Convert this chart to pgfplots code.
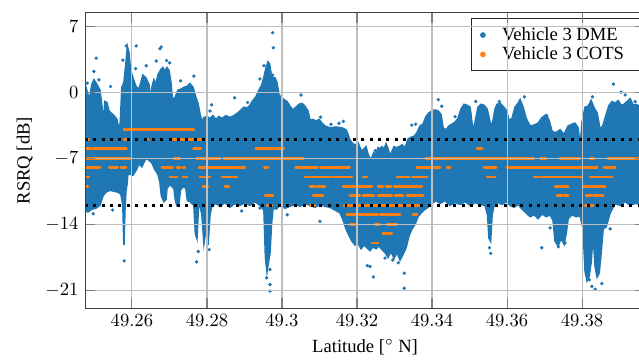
\documentclass[border=0pt]{standalone}
\usepackage{fontspec}
\setmainfont{Liberation Serif}
\usepackage{pgfplots}
\pgfplotsset{compat=1.18}
\usepgfplotslibrary{fillbetween}
\definecolor{c0}{RGB}{31,119,180}
\definecolor{c1}{RGB}{255,127,14}
\definecolor{gridc}{RGB}{190,190,190}
\begin{document}
\begin{tikzpicture}
\begin{axis}[
  scale only axis, width=301.1pt, height=158.9pt,
  xmin=49.2475, xmax=49.3968, ymin=-22.94, ymax=8.41,
  xtick={49.26,49.28,49.3,49.32,49.34,49.36,49.38},
  ytick={-21,-14,-7,0,7},
  grid=major, major grid style={gridc, line width=0.6pt},
  axis on top,
  axis line style={black!75},
  tick style={black!50, line width=0.6pt},
  major tick length=5.5pt,
  xlabel={Latitude [$^\circ$ N]}, ylabel={RSRQ [dB]},
  unbounded coords=jump,
  legend style={at={(0.6888,0.981)}, anchor=north west, draw=black!85, legend cell align=left, inner xsep=5pt, inner ysep=2.5pt, row sep=-2pt, column sep=7pt},
]
\addlegendimage{only marks, mark=*, mark size=1.3pt, c0}
\addlegendentry{Vehicle 3 DME}
\addlegendimage{only marks, mark=*, mark size=1.3pt, c1}
\addlegendentry{Vehicle 3 COTS\hspace*{20pt}}

% upper envelope of the DME cloud
\addplot[name path=up, c0, line width=0.9pt, forget plot] table {
x y
49.2472 0.3
49.24773 0.5
49.24827 -0.3
49.2488 -0.5
49.24933 0.8
49.24987 1.3
49.2504 1.0
49.25093 0.6
49.25147 0.2
49.252 -1.5
49.2524 -3.6
49.2528 -1.0
49.25333 -1.1
49.25387 -2.0
49.25467 -2.3
49.25547 -2.6
49.256 -2.9
49.25653 -4.0
49.25693 -3.2
49.25733 0.5
49.25787 1.0
49.2584 3.0
49.2588 4.8
49.2592 4.2
49.2596 2.4
49.26027 1.5
49.26107 0.6
49.26187 0.3
49.2624 1.0
49.26293 1.8
49.26373 1.5
49.26453 0.8
49.26493 -1.1
49.26533 0.5
49.26587 1.3
49.2664 0.8
49.26693 1.8
49.26773 2.4
49.26827 2.6
49.2688 2.2
49.26933 2.6
49.26987 2.3
49.2704 1.0
49.2708 -0.8
49.27147 -0.6
49.27227 0.2
49.27307 0.3
49.27387 0.5
49.27467 0.6
49.27547 0.9
49.27627 0.5
49.27707 -0.6
49.2776 -1.2
49.27813 -2.3
49.27867 -3.2
49.2792 -2.7
49.28 -2.6
49.2808 -2.8
49.2816 -2.5
49.2824 -2.9
49.2832 -2.6
49.284 -2.8
49.28507 -2.5
49.28613 -2.7
49.2872 -2.5
49.28827 -2.2
49.28907 -1.9
49.28987 -1.6
49.29067 -1.7
49.29147 -1.4
49.29227 -0.9
49.29307 -0.5
49.29387 0.2
49.29467 0.8
49.2952 1.6
49.29573 2.5
49.29627 3.2
49.29667 3.0
49.29707 2.0
49.2976 1.5
49.29813 1.5
49.29867 1.0
49.2992 -0.3
49.29973 -0.5
49.30053 -0.8
49.30133 -1.0
49.30213 -1.5
49.30293 -1.9
49.30373 -1.6
49.30453 -1.3
49.30533 -1.2
49.30613 -1.5
49.30693 -2.0
49.30747 -3.0
49.30827 -2.9
49.30907 -3.1
49.30987 -2.9
49.31067 -3.3
49.31147 -3.6
49.3128 -3.8
49.3144 -3.7
49.316 -3.8
49.31707 -4.0
49.3176 -4.5
49.31813 -5.1
49.31893 -5.5
49.31973 -5.6
49.32027 -5.4
49.3208 -5.9
49.32133 -6.3
49.32187 -6.0
49.3224 -5.8
49.32293 -6.6
49.32347 -7.1
49.324 -6.9
49.32453 -6.4
49.32507 -6.6
49.3256 -5.9
49.32613 -6.0
49.32667 -5.8
49.3272 -6.1
49.32773 -5.5
49.32827 -6.0
49.3288 -6.8
49.32933 -6.3
49.32987 -5.8
49.3304 -5.9
49.3312 -5.8
49.332 -5.6
49.3328 -5.9
49.3336 -5.0
49.3344 -4.8
49.3352 -4.7
49.336 -4.3
49.3368 -3.6
49.3376 -3.4
49.3384 -2.6
49.3392 -2.2
49.34 -2.0
49.3408 -1.9
49.3416 -2.0
49.3424 -2.4
49.34293 -3.8
49.34373 -4.0
49.34453 -3.6
49.34533 -3.4
49.34613 -3.2
49.34693 -2.8
49.34773 -1.8
49.34853 -1.3
49.34933 -1.4
49.35013 -1.6
49.35093 -4.2
49.35147 -3.2
49.35227 -1.6
49.35307 -1.3
49.35387 -1.4
49.35467 -1.8
49.35547 -3.2
49.356 -3.6
49.3568 -1.8
49.35733 -1.3
49.35813 -1.2
49.35893 -1.5
49.35973 -1.9
49.36053 -3.0
49.36133 -2.8
49.36213 -1.6
49.36293 -1.2
49.36347 -0.8
49.36427 -1.6
49.36507 -2.8
49.36613 -3.6
49.3672 -3.5
49.36827 -3.3
49.36933 -2.7
49.3704 -2.4
49.3712 -3.0
49.372 -4.2
49.37307 -4.3
49.37413 -4.0
49.3752 -4.5
49.37627 -3.6
49.37733 -3.4
49.37813 -3.3
49.37893 -3.8
49.37947 -5.8
49.38 -3.2
49.3808 -1.6
49.3816 -1.5
49.3824 -0.9
49.3832 -1.7
49.384 -2.2
49.3848 -4.0
49.3856 -3.5
49.3864 -2.4
49.3872 -1.4
49.388 -1.0
49.3888 -1.2
49.3896 -0.9
49.3904 -1.4
49.3912 -1.3
49.392 -1.0
49.3928 -0.7
49.3936 -1.4
49.3944 -1.3
49.3952 -1.5
49.3968 -1.4
};

% lower envelope of the DME cloud
\addplot[name path=lo, c0, line width=0.9pt, forget plot] table {
x y
49.2472 -12.5
49.24827 -12.7
49.24933 -12.4
49.2504 -12.3
49.25147 -12.0
49.25227 -11.0
49.25307 -10.6
49.25413 -10.4
49.2552 -10.5
49.25627 -10.6
49.25707 -10.8
49.2576 -12.0
49.25787 -16.2
49.25813 -12.5
49.2584 -10.5
49.25867 -9.8
49.25893 -8.6
49.25947 -8.7
49.26027 -8.8
49.26107 -8.3
49.26187 -7.6
49.26267 -7.9
49.26347 -7.2
49.264 -7.0
49.26453 -7.2
49.26533 -7.5
49.26613 -8.2
49.26693 -8.7
49.26747 -9.5
49.26787 -11.0
49.26853 -11.6
49.26907 -11.4
49.26933 -10.2
49.27013 -9.8
49.2712 -10.2
49.2716 -11.5
49.272 -12.0
49.27253 -11.8
49.27293 -10.4
49.2736 -10.0
49.2744 -10.2
49.2748 -11.5
49.27547 -11.6
49.27653 -12.0
49.27693 -15.0
49.27733 -15.5
49.27773 -12.2
49.27813 -12.0
49.27867 -13.0
49.2792 -16.0
49.27973 -14.5
49.28027 -16.2
49.2808 -13.0
49.28133 -12.0
49.2824 -11.8
49.28347 -12.1
49.2848 -11.7
49.28613 -12.2
49.28747 -11.8
49.2888 -12.0
49.29013 -11.7
49.29147 -12.0
49.2928 -11.6
49.29413 -12.0
49.2952 -12.5
49.2956 -17.5
49.296 -19.0
49.2964 -18.0
49.2968 -17.0
49.2972 -14.0
49.2976 -12.3
49.2984 -12.4
49.29947 -12.0
49.3008 -12.3
49.30213 -12.1
49.30347 -11.9
49.3048 -12.1
49.30613 -11.8
49.30747 -12.0
49.3088 -12.2
49.31013 -11.9
49.31147 -12.1
49.3128 -12.2
49.31413 -12.5
49.31547 -12.8
49.31627 -13.5
49.31707 -14.5
49.31787 -15.2
49.31867 -15.8
49.31947 -16.2
49.32027 -16.0
49.32107 -16.6
49.32187 -16.2
49.32267 -16.5
49.32347 -16.8
49.32427 -16.4
49.32507 -16.6
49.32587 -16.3
49.32667 -16.7
49.32747 -17.0
49.32827 -17.5
49.32907 -16.9
49.32987 -17.6
49.33067 -17.0
49.33147 -17.8
49.33227 -17.2
49.33307 -16.5
49.33387 -15.2
49.33467 -14.5
49.33547 -14.0
49.33627 -13.2
49.33707 -12.8
49.33787 -12.5
49.33893 -12.2
49.34 -11.8
49.34107 -11.5
49.34213 -11.8
49.34347 -11.5
49.3448 -12.0
49.34613 -11.7
49.34747 -11.9
49.3488 -11.6
49.35013 -12.0
49.35147 -11.7
49.3528 -11.9
49.35413 -12.0
49.3548 -13.0
49.3552 -15.5
49.3556 -15.8
49.356 -13.0
49.35653 -12.0
49.3576 -11.7
49.35867 -11.9
49.35973 -11.6
49.3608 -12.0
49.36187 -12.2
49.36293 -11.9
49.364 -12.4
49.36507 -12.8
49.36613 -13.2
49.3672 -13.0
49.36827 -13.4
49.36933 -12.9
49.3704 -13.2
49.37147 -13.0
49.37227 -13.6
49.3728 -15.8
49.3736 -16.3
49.3744 -15.5
49.3752 -16.1
49.37573 -15.0
49.37627 -13.4
49.37733 -13.0
49.3784 -13.2
49.37947 -13.1
49.38027 -14.5
49.3808 -19.0
49.38133 -20.0
49.38187 -19.5
49.3824 -18.0
49.38293 -15.0
49.38347 -18.5
49.384 -19.6
49.38453 -19.2
49.38507 -17.0
49.3856 -14.5
49.3864 -14.3
49.38747 -12.8
49.3888 -11.8
49.39013 -12.0
49.39147 -11.6
49.3928 -12.0
49.39413 -11.8
49.3968 -11.9
};
\addplot[c0, forget plot] fill between[of=up and lo];

% isolated DME samples outside the dense band
\addplot[only marks, mark=*, mark size=0.7pt, c0, forget plot] table {
x y
49.24808 0.95
49.24987 2.2
49.25048 3.6
49.2512 1.3
49.25432 0.6
49.2576 3.4
49.25848 4.9
49.26115 4.9
49.26099 2.5
49.26381 2.8
49.26648 3.3
49.26747 4.6
49.26781 4.8
49.26925 3.35
49.27005 3.1
49.27299 1.2
49.27653 1.7
49.2808 -2.0
49.28125 -1.35
49.28739 -0.6
49.29085 -1.1
49.29253 -0.9
49.29413 1.4
49.2952 2.8
49.29752 6.3
49.29768 4.7
49.29752 1.8
49.30507 -0.3
49.31032 -2.65
49.31307 -3.4
49.3152 -3.3
49.31635 -3.1
49.32488 -6.2
49.33459 -3.5
49.33565 -3.4
49.34168 -0.8
49.34259 -1.5
49.34613 -2.6
49.35165 -1.0
49.35795 -1.0
49.36461 -0.5
49.37059 -2.5
49.38035 -2.4
49.38275 -0.5
49.38835 0.85
49.3904 0.0
49.39147 -0.3
49.39413 -1.0
49.25795 -17.9
49.24968 -12.9
49.25485 -12.5
49.27725 -18.0
49.27768 -16.9
49.28061 -16.7
49.2968 -21.1
49.2968 -20.4
49.29592 -19.7
49.2968 -18.8
49.28925 -12.6
49.29413 -12.3
49.30141 -13.0
49.31013 -13.7
49.32435 -19.6
49.32347 -18.5
49.32275 -18.4
49.33261 -19.2
49.33261 -20.8
49.33101 -18.1
49.32747 -17.6
49.32952 -17.8
49.35565 -17.1
49.35528 -16.5
49.36925 -16.5
49.37147 -14.4
49.37368 -16.4
49.37547 -16.0
49.38259 -20.6
49.38347 -20.9
49.38525 -20.3
49.38747 -14.5
49.38195 -19.9
};

% COTS samples (integer dB levels)
\addplot[c1, line width=1.5pt, line cap=round, forget plot] coordinates {
(49.25787,-4) (49.27653,-4) (49.3,nan)
(49.24773,-5) (49.24853,-5) (49.3,nan)
(49.25787,-5) (49.25853,-5) (49.3,nan)
(49.26373,-5) (49.26427,-5) (49.3,nan)
(49.27032,-5) (49.27931,-5) (49.3,nan)
(49.24773,-6) (49.24907,-6) (49.3,nan)
(49.2496,-6) (49.25853,-6) (49.3,nan)
(49.27645,-6) (49.27835,-6) (49.3,nan)
(49.29299,-6) (49.3005,-6) (49.3,nan)
(49.352,-6) (49.35333,-6) (49.3,nan)
(49.24773,-7) (49.25947,-7) (49.3,nan)
(49.2712,-7) (49.2728,-7) (49.3,nan)
(49.27733,-7) (49.28347,-7) (49.3,nan)
(49.28453,-7) (49.30573,-7) (49.3,nan)
(49.33829,-7) (49.36709,-7) (49.3,nan)
(49.36896,-7) (49.3704,-7) (49.3,nan)
(49.37413,-7) (49.37936,-7) (49.3,nan)
(49.38213,-7) (49.3832,-7) (49.3,nan)
(49.38693,-7) (49.3968,-7) (49.3,nan)
(49.24773,-8) (49.25147,-8) (49.3,nan)
(49.254,-8) (49.25616,-8) (49.3,nan)
(49.25707,-8) (49.2584,-8) (49.3,nan)
(49.268,-8) (49.2708,-8) (49.3,nan)
(49.272,-8) (49.2728,-8) (49.3,nan)
(49.2736,-8) (49.27413,-8) (49.3,nan)
(49.27787,-8) (49.28693,-8) (49.3,nan)
(49.28733,-8) (49.29013,-8) (49.3,nan)
(49.29533,-8) (49.29627,-8) (49.3,nan)
(49.30365,-8) (49.30949,-8) (49.3,nan)
(49.31027,-8) (49.318,-8) (49.3,nan)
(49.33592,-8) (49.34208,-8) (49.3,nan)
(49.344,-8) (49.3448,-8) (49.3,nan)
(49.35387,-8) (49.35707,-8) (49.3,nan)
(49.36,-8) (49.384,-8) (49.3,nan)
(49.38587,-8) (49.3888,-8) (49.3,nan)
(49.24773,-9) (49.24853,-9) (49.3,nan)
(49.27013,-9) (49.272,-9) (49.3,nan)
(49.2736,-9) (49.27467,-9) (49.3,nan)
(49.27813,-9) (49.2808,-9) (49.3,nan)
(49.284,-9) (49.288,-9) (49.3,nan)
(49.30613,-9) (49.3128,-9) (49.3,nan)
(49.31333,-9) (49.31867,-9) (49.3,nan)
(49.3216,-9) (49.32267,-9) (49.3,nan)
(49.33067,-9) (49.332,-9) (49.3,nan)
(49.33227,-9) (49.33387,-9) (49.3,nan)
(49.33467,-9) (49.336,-9) (49.3,nan)
(49.33627,-9) (49.33867,-9) (49.3,nan)
(49.35467,-9) (49.3568,-9) (49.3,nan)
(49.3672,-9) (49.36827,-9) (49.3,nan)
(49.3688,-9) (49.38,-9) (49.3,nan)
(49.38213,-9) (49.388,-9) (49.3,nan)
(49.24773,-10) (49.24827,-10) (49.3,nan)
(49.27893,-10) (49.28027,-10) (49.3,nan)
(49.2848,-10) (49.28587,-10) (49.3,nan)
(49.30747,-10) (49.3088,-10) (49.3,nan)
(49.30933,-10) (49.31147,-10) (49.3,nan)
(49.31627,-10) (49.31947,-10) (49.3,nan)
(49.32027,-10) (49.324,-10) (49.3,nan)
(49.3256,-10) (49.32693,-10) (49.3,nan)
(49.32773,-10) (49.32907,-10) (49.3,nan)
(49.32987,-10) (49.33173,-10) (49.3,nan)
(49.332,-10) (49.33733,-10) (49.3,nan)
(49.3728,-10) (49.37627,-10) (49.3,nan)
(49.38027,-10) (49.38267,-10) (49.3,nan)
(49.38293,-10) (49.38613,-10) (49.3,nan)
(49.29547,-11) (49.2976,-11) (49.3,nan)
(49.30827,-11) (49.31093,-11) (49.3,nan)
(49.31813,-11) (49.3208,-11) (49.3,nan)
(49.3216,-11) (49.32453,-11) (49.3,nan)
(49.3256,-11) (49.32933,-11) (49.3,nan)
(49.33013,-11) (49.33227,-11) (49.3,nan)
(49.33333,-11) (49.3376,-11) (49.3,nan)
(49.37333,-11) (49.37467,-11) (49.3,nan)
(49.3752,-11) (49.37627,-11) (49.3,nan)
(49.38107,-11) (49.3824,-11) (49.3,nan)
(49.38293,-11) (49.3856,-11) (49.3,nan)
(49.296,-12) (49.29733,-12) (49.3,nan)
(49.30747,-12) (49.3088,-12) (49.3,nan)
(49.31653,-12) (49.32747,-12) (49.3,nan)
(49.328,-12) (49.33227,-12) (49.3,nan)
(49.33333,-12) (49.3368,-12) (49.3,nan)
(49.3808,-12) (49.38293,-12) (49.3,nan)
(49.3173,-13) (49.3256,-13) (49.3,nan)
(49.32613,-13) (49.33147,-13) (49.3,nan)
(49.33493,-13) (49.336,-13) (49.3,nan)
(49.31813,-14) (49.31947,-14) (49.3,nan)
(49.3248,-14) (49.32613,-14) (49.3,nan)
(49.328,-14) (49.33067,-14) (49.3,nan)
(49.3269,-15) (49.32933,-15) (49.3,nan)
(49.324,-16) (49.3256,-16)
};

% thresholds
\addplot[black, line width=1.6pt, dash pattern=on 1.6pt off 2.9pt, forget plot] coordinates {(49.2475,-5) (49.3968,-5)};
\addplot[black, line width=1.6pt, dash pattern=on 1.6pt off 2.9pt, forget plot] coordinates {(49.2475,-12) (49.3968,-12)};
\end{axis}
\pgfresetboundingbox
\path[use as bounding box] ([xshift=-45.7pt,yshift=-27.8pt]current axis.south west) rectangle ([xshift=297.8pt,yshift=165.8pt]current axis.south west);
\end{tikzpicture}
\end{document}
